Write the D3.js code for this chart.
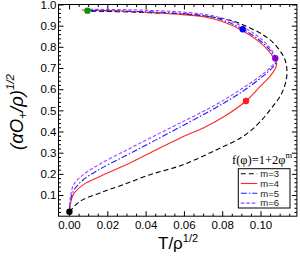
<!DOCTYPE html>
<html>
<head>
<meta charset="utf-8">
<script src="https://cdnjs.cloudflare.com/ajax/libs/d3/7.8.5/d3.min.js"></script>
<style>
	body { margin: 0; background: #fff; }
	svg { display: block; }
</style>
</head>
<body>
<div id="chart"></div>
<script>

// each curve: [T/rho^(1/2), (alpha O+/rho)^(1/2)]
var curveM3 = [[0.0002,0.021],[0.0057,0.070],[0.0162,0.110],[0.0282,0.149],[0.0423,0.196],[0.0595,0.243],
	[0.0771,0.314],[0.0909,0.377],[0.0987,0.436],[0.1050,0.502],[0.1111,0.581],[0.1136,0.653],[0.1137,0.700],
	[0.1128,0.738],[0.1111,0.769],[0.1068,0.818],[0.1015,0.856],[0.0945,0.889],[0.0856,0.922],[0.0710,0.946],
	[0.0580,0.955],[0.0423,0.961],[0.0266,0.966],[0.0094,0.969]]

var curveM4 = [[0.0002,0.021],[0.0005,0.045],[0.0022,0.102],[0.0075,0.149],[0.0162,0.188],[0.0301,0.244],
	[0.0423,0.299],[0.0597,0.377],[0.0701,0.417],[0.0823,0.478],[0.0924,0.544],[0.0997,0.612],[0.1050,0.662],
	[0.1081,0.705],[0.1084,0.728],[0.1070,0.747],[0.1039,0.785],[0.0987,0.828],[0.0909,0.875],[0.0815,0.915],
	[0.0710,0.941],[0.0580,0.953],[0.0423,0.962],[0.0266,0.969],[0.0066,0.974]]

var curveM5 = [[0.0002,0.021],[0.0008,0.077],[0.0026,0.124],[0.0073,0.171],[0.0162,0.223],[0.0303,0.289],
	[0.0423,0.346],[0.0580,0.421],[0.0773,0.516],[0.0909,0.591],[0.1013,0.662],[0.1060,0.700],[0.1081,0.728],
	[0.1070,0.757],[0.1039,0.795],[0.0987,0.837],[0.0909,0.883],[0.0815,0.922],[0.0710,0.946],[0.0580,0.958],
	[0.0423,0.965],[0.0266,0.969],[0.0094,0.972]]

var curveM6 = [[0.0002,0.021],[0.0008,0.095],[0.0026,0.152],[0.0073,0.195],[0.0162,0.247],[0.0303,0.313],
	[0.0423,0.369],[0.0580,0.440],[0.0773,0.530],[0.0909,0.606],[0.1013,0.672],[0.1060,0.710],[0.1081,0.735],
	[0.1070,0.766],[0.1039,0.806],[0.0987,0.849],[0.0909,0.894],[0.0815,0.932],[0.0710,0.953],[0.0580,0.965],
	[0.0423,0.972],[0.0266,0.976],[0.0094,0.977]]

var seriesNames = ["m=3", "m=4", "m=5", "m=6"]

// highlighted points
var markedPoints = [[0.0002,0.021],[0.0096,0.971],[0.0907,0.883],[0.1077,0.746],[0.0924,0.544]]

var xTicks = [0, 0.02, 0.04, 0.06, 0.08, 0.10]
var yTicks = [0.1, 0.2, 0.3, 0.4, 0.5, 0.6, 0.7, 0.8, 0.9, 1.0]


PhaseVis = function(_parentElement){
	this.parentElement = _parentElement;
	this.initVis();
}

PhaseVis.prototype.initVis = function(){
	var vis = this;

	vis.margin = { top: 4.5, right: 3.1, bottom: 39.8, left: 58.5 };
	vis.width = 300 - vis.margin.left - vis.margin.right;
	vis.height = 256 - vis.margin.top - vis.margin.bottom;

	vis.svg = d3.select("#" + vis.parentElement).append("svg")
		.attr("width", 300)
		.attr("height", 256)
		.style("font-family", "'Liberation Sans', Arial, sans-serif")

	vis.g = vis.svg.append("g")
		.attr("transform", "translate(" + vis.margin.left + "," + vis.margin.top + ")")

	vis.x = d3.scaleLinear().domain([-0.0055, 0.119]).range([0, vis.width])
	vis.y = d3.scaleLinear().domain([0, 1]).range([vis.height, 0])

	// minor tick values
	var xMinor = d3.range(0, 0.1186, 0.005).filter(function(v){ return Math.abs(v / 0.02 - Math.round(v / 0.02)) > 1e-6 })
	var yMinor = d3.range(0.02, 1.0, 0.02).filter(function(v){ return Math.abs(v * 10 - Math.round(v * 10)) > 1e-6 })

	// bottom + left axes with labels, ticks pointing in
	vis.g.append("g").attr("class", "axis")
		.attr("transform", "translate(0," + vis.height + ")")
		.call(d3.axisBottom(vis.x).tickValues(xTicks).tickSize(-5).tickPadding(4.5).tickFormat(d3.format(".2f")))
	vis.g.append("g").attr("class", "axis")
		.attr("transform", "translate(0," + vis.height + ")")
		.call(d3.axisBottom(vis.x).tickValues(xMinor).tickSize(-2.5).tickFormat(""))
	vis.g.append("g").attr("class", "axis")
		.call(d3.axisLeft(vis.y).tickValues(yTicks).tickSize(-5).tickPadding(2).tickFormat(d3.format(".1f")))
	vis.g.append("g").attr("class", "axis")
		.call(d3.axisLeft(vis.y).tickValues(yMinor).tickSize(-2.5).tickFormat(""))

	// top + right, ticks only
	vis.g.append("g").attr("class", "axis")
		.call(d3.axisTop(vis.x).tickValues(xTicks).tickSize(-5).tickFormat(""))
	vis.g.append("g").attr("class", "axis")
		.call(d3.axisTop(vis.x).tickValues(xMinor).tickSize(-2.5).tickFormat(""))
	vis.g.append("g").attr("class", "axis")
		.attr("transform", "translate(" + vis.width + ",0)")
		.call(d3.axisRight(vis.y).tickValues(yTicks).tickSize(-5).tickFormat(""))
	vis.g.append("g").attr("class", "axis")
		.attr("transform", "translate(" + vis.width + ",0)")
		.call(d3.axisRight(vis.y).tickValues(yMinor).tickSize(-2.5).tickFormat(""))

	vis.g.selectAll(".axis .domain").remove()
	vis.g.selectAll(".axis text").attr("font-size", 11.5).attr("fill", "#000")
		.style("font-family", "'Liberation Sans', Arial, sans-serif")
	vis.g.selectAll(".axis line").attr("stroke", "#000")

	vis.g.append("rect")
		.attr("width", vis.width)
		.attr("height", vis.height)
		.attr("fill", "none")
		.attr("stroke", "#000")

	// curves
	var line = d3.line()
		.x(function(d){ return vis.x(d[0]) })
		.y(function(d){ return vis.y(d[1]) })
		.curve(d3.curveCatmullRom.alpha(0.5))

	var curves = [curveM3, curveM4, curveM5, curveM6]
	vis.colors = ["#000000", "#ff2626", "#1a1aff", "#a040ff"]
	vis.dashes = ["5,3", null, "6,2,1.5,2", "3.5,2"]

	vis.g.selectAll(".curve")
		.data(curves)
		.enter()
		.append("path")
		.attr("class", "curve")
		.attr("d", line)
		.attr("fill", "none")
		.attr("stroke", function(d, i){ return vis.colors[i] })
		.attr("stroke-width", 1.1)
		.attr("stroke-dasharray", function(d, i){ return vis.dashes[i] })

	var dotColors = ["#000000", "#009a00", "#0000ff", "#8800d0", "#ff1a1a"]
	vis.g.selectAll(".dot")
		.data(markedPoints)
		.enter()
		.append("circle")
		.attr("class", "dot")
		.attr("cx", function(d){ return vis.x(d[0]) })
		.attr("cy", function(d){ return vis.y(d[1]) })
		.attr("r", 3.2)
		.attr("fill", function(d, i){ return dotColors[i] })

	// axis titles
	var xt = vis.svg.append("text")
		.attr("x", 158)
		.attr("y", 249)
		.attr("font-size", 17)
	xt.append("tspan").text("T/\u03c1")
	xt.append("tspan").attr("font-size", 11).attr("dy", -7.5).text("1/2")

	var yt = vis.svg.append("text")
		.attr("transform", "translate(23,112) rotate(-90)")
		.attr("text-anchor", "middle")
		.attr("font-size", 18.5)
		.attr("font-style", "italic")
	yt.append("tspan").text("(\u03b1O")
	yt.append("tspan").attr("font-size", 12).attr("dy", 4).text("+")
	yt.append("tspan").attr("dy", -4).text("/\u03c1)")
	yt.append("tspan").attr("font-size", 11.5).attr("dy", -9).text("1/2")

	vis.drawLegend();
}

PhaseVis.prototype.drawLegend = function(){
	var vis = this;

	var lt = vis.svg.append("text")
		.attr("x", 232)
		.attr("y", 164)
		.attr("font-size", 12.5)
		.style("font-family", "'Liberation Serif', 'Times New Roman', serif")
	lt.append("tspan").text("f(\u03c6)=1+2\u03c6")
	lt.append("tspan").attr("font-size", 8.5).attr("dy", -6).text("m")

	var legend = vis.svg.append("g").attr("transform", "translate(238.3,168.7)")
	legend.append("rect")
		.attr("width", 51.7)
		.attr("height", 39.3)
		.attr("fill", "#fff")
		.attr("stroke", "#000")

	var rows = legend.selectAll(".row")
		.data(seriesNames)
		.enter()
		.append("g")
		.attr("class", "row")
		.attr("transform", function(d, i){ return "translate(0," + (5 + i * 9.8) + ")" })

	rows.append("line")
		.attr("x1", 2.5).attr("x2", 19)
		.attr("stroke", function(d, i){ return vis.colors[i] })
		.attr("stroke-width", 1.1)
		.attr("stroke-dasharray", function(d, i){ return vis.dashes[i] })

	rows.append("text")
		.attr("x", 22)
		.attr("dy", "0.35em")
		.attr("font-size", 9.5)
		.attr("fill", "#222")
		.text(function(d){ return d })
}

new PhaseVis("chart");

</script>
</body>
</html>
